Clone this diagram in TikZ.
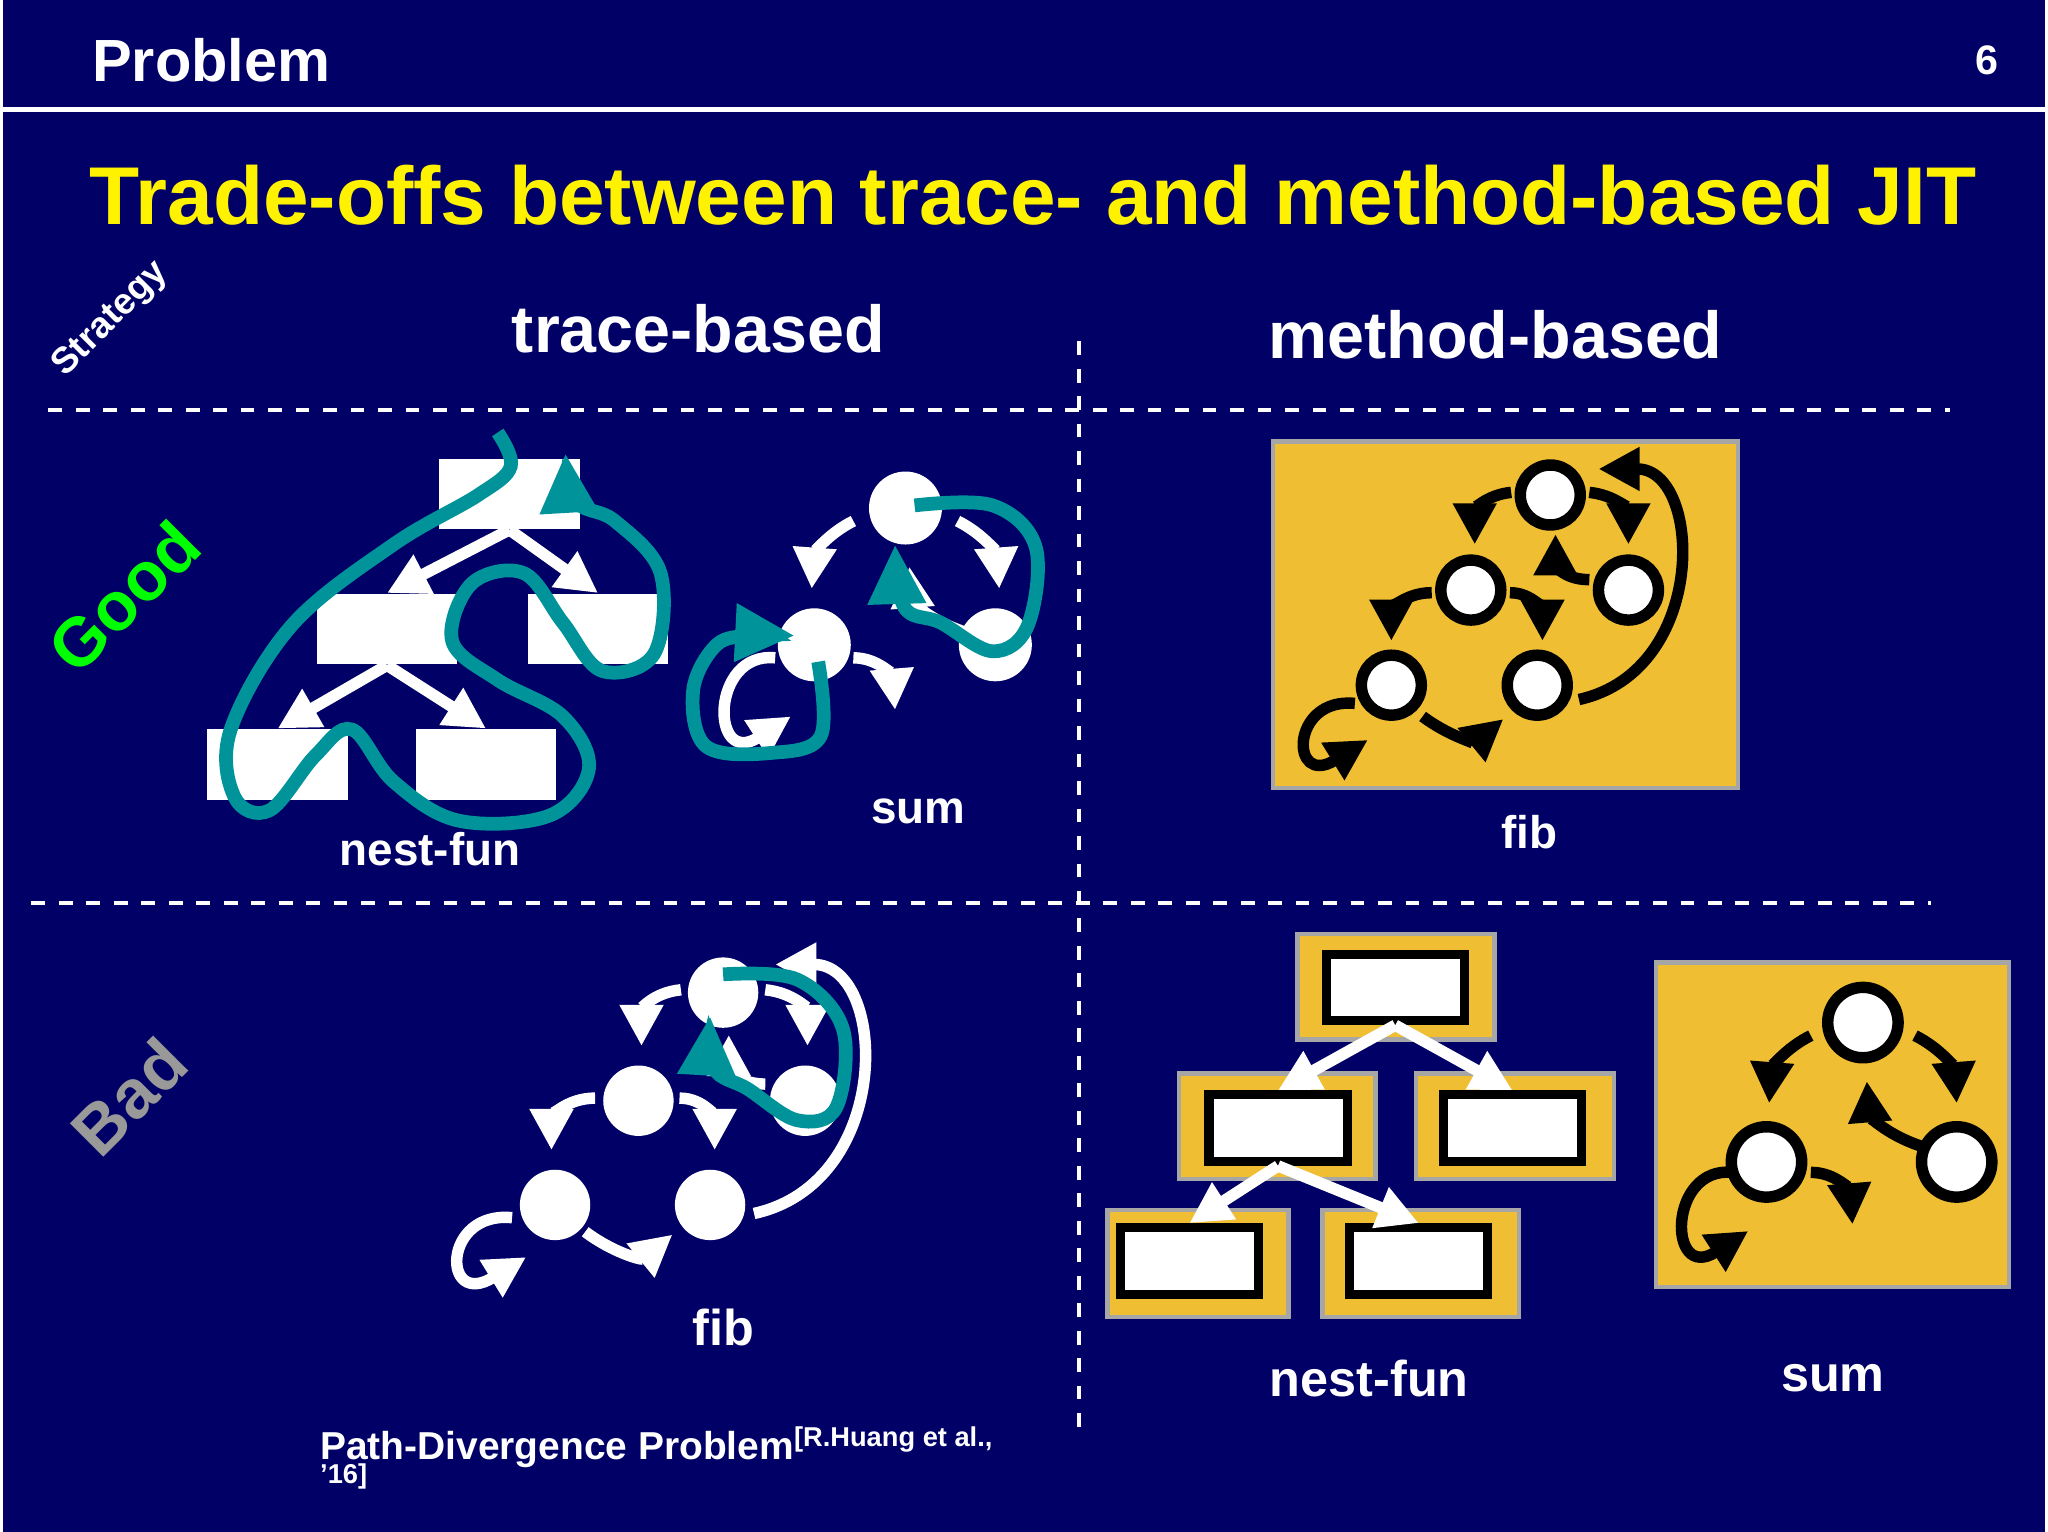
\documentclass[tikz,border=0pt]{standalone}
\usepackage{fontspec}
\setmainfont{Liberation Sans}
\usetikzlibrary{arrows.meta}
\definecolor{bg}{HTML}{000066}
\definecolor{tl}{HTML}{00939A}
\definecolor{yb}{HTML}{F0BE32}
\newcommand{\fibarr}[1]{%
 \draw[#1] (-30,-2) .. controls (-50,0) and (-58,12) .. (-58,38);
 \draw[#1] (30,-2) .. controls (50,0) and (60,12) .. (60,38);
 \draw[#1] (30,65) .. controls (7,65) and (4,50) .. (4,30);
 \draw[#1] (-91,75) .. controls (-113,75) and (-122,90) .. (-122,112);
 \draw[#1] (-31,75) .. controls (-13,75) and (-6,90) .. (-6,112);
 \draw[#1] (-98,170) .. controls (-78,185) and (-58,190) .. (-36,172);
 \draw[#1] (-150,160) .. controls (-200,155) and (-200,225) .. (-140,188);
 \draw[#1] (22,157) .. controls (122,135) and (117,-20) .. (37,-20);}
\newcommand{\sumarr}[1]{%
 \draw[#1] (-40,10) .. controls (-60,20) and (-70,35) .. (-72,62);
 \draw[#1] (40,10) .. controls (60,20) and (70,35) .. (72,62);
 \draw[#1] (45,95) .. controls (15,85) and (5,70) .. (3,45);
 \draw[#1] (-40,115) .. controls (-20,115) and (-10,130) .. (-8,155);
 \draw[#1] (-100,115) .. controls (-150,110) and (-150,200) .. (-88,160);}
\begin{document}
\begin{tikzpicture}[x=0.01cm,y=-0.01cm,font=\bfseries,
 wc/.style={circle,fill=white,inner sep=0pt,minimum size=#1},
 bc/.style={circle,fill=white,draw=black,line width=2.5pt,inner sep=0pt,minimum size=#1},
 wa/.style={white,line width=2.5pt,-{Triangle[length=9pt,width=9pt]}},
 ba/.style={black,line width=2.5pt,-{Triangle[length=9pt,width=9pt]}},
 ta/.style={tl,line width=3pt,-{Triangle[length=13pt,width=12pt]}},
 wr/.style={fill=white,inner sep=0pt,minimum width=1.08cm,minimum height=0.54cm},
 yb/.style={fill=yb,draw=gray!70,line width=1pt},
 ir/.style={fill=white,draw=black,line width=2pt,inner sep=0pt,minimum width=1.06cm,minimum height=0.51cm},
 dl/.style={white,dashed,line width=0.8pt}]
\fill[bg] (0,0) rectangle (1568,1176);
\draw[white,line width=1.2pt] (0,84) -- (1568,84);
\node[white,font=\bfseries\fontsize{13}{15}\selectfont,anchor=west,inner sep=0pt] (hd) at (68,46) {Problem};
\node[white,font=\bfseries\fontsize{9}{11}\selectfont] (pg) at (1523,46) {6};
\node[yellow,font=\bfseries\fontsize{17.9}{20}\selectfont] (tt) at (791,150) {Trade-offs between trace- and method-based JIT};
\node[white,font=\bfseries\fontsize{14.5}{16}\selectfont] (tb) at (534,252) {trace-based};
\node[white,font=\bfseries\fontsize{14.5}{16}\selectfont] (mb) at (1146,257) {method-based};
\node[white,rotate=45,font=\bfseries\fontsize{8}{10}\selectfont] (st) at (83,245) {Strategy};
\node[green,rotate=45,font=\bfseries\fontsize{15}{17}\selectfont] (gd) at (93,458) {Good};
\node[gray!80,rotate=45,font=\bfseries\fontsize{15}{17}\selectfont] (bd) at (97,842) {Bad};
\draw[dl] (35,315) -- (1495,315);
\draw[dl] (22,693) -- (1480,693);
\draw[dl] (826,262) -- (826,1105);
% trace good nest-fun
\node[wr] (r1) at (389,379) {};
\node[wr] (r2) at (295,483) {};
\node[wr] (r3) at (457,483) {};
\node[wr] (r4) at (211,587) {};
\node[wr] (r5) at (371,587) {};
\draw[wa] (r1.south) -- (r2.north);
\draw[wa] (r1.south) -- (r3.north);
\draw[wa] (r2.south) -- (r4.north);
\draw[wa] (r2.south) -- (r5.north);
\draw[ta] plot[smooth,tension=0.6] coordinates {(380,332)(390,358)(365,380)(300,418)(222,480)(175,560)(178,612)(205,622)(240,580)(268,560)(300,600)(350,630)(420,626)(450,590)(430,550)(380,522)(345,492)(360,448)(400,440)(430,478)(460,515)(500,502)(505,440)(470,400)(440,385)(432,348)};
\node[white,font=\bfseries\fontsize{10}{12}\selectfont] (l1) at (328,652) {nest-fun};
% trace good sum
\node[wc=0.56cm] (s1) at (693,390) {};
\node[wc=0.56cm] (s2) at (623,495) {};
\node[wc=0.56cm] (s3) at (762,495) {};
\begin{scope}[shift={(693,390)}]\sumarr{wa}\end{scope}
\draw[ta] plot[smooth,tension=0.6] coordinates {(700,388)(760,388)(793,420)(787,480)(760,500)(720,478)(692,466)(685,418)};
\draw[ta] plot[smooth,tension=0.6] coordinates {(626,508)(628,565)(590,578)(540,573)(530,530)(548,495)(575,488)(608,488)};
\node[white,font=\bfseries\fontsize{10}{12}\selectfont] (l2) at (703,623) {sum};
% method good fib
\draw[yb] (975,339) rectangle (1332,605);
\node[bc=0.46cm] (f1) at (1188,380) {};
\node[bc=0.46cm] (f2) at (1127,453) {};
\node[bc=0.46cm] (f3) at (1248,453) {};
\node[bc=0.46cm] (f4) at (1066,526) {};
\node[bc=0.46cm] (f5) at (1178,526) {};
\begin{scope}[shift={(1188,380)}]\fibarr{ba}\end{scope}
\node[white,font=\bfseries\fontsize{10}{12}\selectfont] (l3) at (1172,639) {fib};
% trace bad fib
\node[wc=0.54cm] (b1) at (553,762) {};
\node[wc=0.54cm] (b2) at (488,845) {};
\node[wc=0.54cm] (b3) at (616,845) {};
\node[wc=0.54cm] (b4) at (424,925) {};
\node[wc=0.54cm] (b5) at (543,925) {};
\begin{scope}[shift={(553,762)},scale=1.08]\fibarr{wa}\end{scope}
\draw[ta] plot[smooth,tension=0.6] coordinates {(553,748)(610,752)(645,790)(640,850)(610,860)(572,836)(546,820)(543,780)};
\node[white,font=\bfseries\fontsize{11}{13}\selectfont] (l4) at (553,1019) {fib};
\node[white,anchor=west,inner sep=0pt,font=\bfseries\fontsize{8.5}{10}\selectfont,align=left] (pd) at (243,1122) {Path-Divergence Problem\textsuperscript{[R.Huang et al.,}\\[-2pt]\textsuperscript{'16]}};
% method bad nest-fun
\draw[yb] (994,717) rectangle (1145,798);
\draw[yb] (903,824) rectangle (1054,905);
\draw[yb] (1085,824) rectangle (1237,905);
\draw[yb] (848,929) rectangle (987,1011);
\draw[yb] (1013,929) rectangle (1164,1011);
\node[ir] (m1) at (1069,758) {};
\node[ir] (m2) at (979,866) {};
\node[ir] (m3) at (1159,866) {};
\node[ir] (m4) at (911,968) {};
\node[ir] (m5) at (1087,968) {};
\draw[wa] (m1.south) -- (m2.north);
\draw[wa] (m1.south) -- (m3.north);
\draw[wa] (m2.south) -- (m4.north);
\draw[wa] (m2.south) -- (m5.north);
\node[white,font=\bfseries\fontsize{11}{13}\selectfont] (l5) at (1049,1058) {nest-fun};
% method bad sum
\draw[yb] (1269,739) rectangle (1540,988);
\node[bc=0.54cm] (u1) at (1428,785) {};
\node[bc=0.54cm] (u2) at (1354,892) {};
\node[bc=0.54cm] (u3) at (1500,892) {};
\begin{scope}[shift={(1428,785)}]\sumarr{ba}\end{scope}
\node[white,font=\bfseries\fontsize{11}{13}\selectfont] (l6) at (1405,1058) {sum};
\end{tikzpicture}
\end{document}
